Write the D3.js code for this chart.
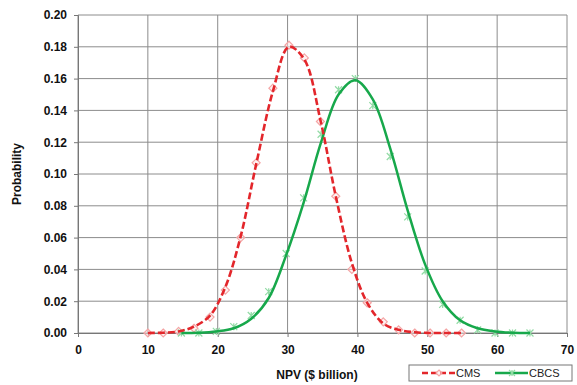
<!doctype html>
<html lang="en">
<head>
<meta charset="UTF-8">
<title>NPV probability</title>
<style>
  body { margin: 0; background: #fff; }
  svg text { font-family: "Liberation Sans", Arial, sans-serif; }
</style>
</head>
<body>
<svg class="chart" width="577" height="385"></svg>
<script src="https://d3js.org/d3.v7.min.js"></script>
<script>
// NPV ($ billion) and probability
// markers = simulated points, fit = the smooth curve drawn through them
var cmsX = [10, 12.2, 14.4, 16.6, 18.9, 21.1, 23.3, 25.5, 27.9, 30.2, 32.4,
            34.7, 36.9, 39.2, 41.4, 43.7, 45.9, 48.2, 50.4, 52.7, 54.9];
var cmsP = [0, 0, 0.001, 0.003, 0.010, 0.027, 0.060, 0.107, 0.154, 0.181, 0.173,
            0.133, 0.086, 0.040, 0.019, 0.007, 0.002, 0, 0, 0, 0];
var cmsFit = [0, 0.0002, 0.001, 0.004, 0.011, 0.029, 0.061, 0.106, 0.152, 0.180, 0.172,
              0.134, 0.086, 0.044, 0.019, 0.006, 0.002, 0.0005, 0, 0, 0];

var cbcsX = [14.8, 17.3, 19.8, 22.3, 24.8, 27.3, 29.8, 32.3, 34.8, 37.3, 39.7,
             42.2, 44.7, 47.2, 49.7, 52.2, 54.7, 57.2, 59.7, 62.2, 64.7];
var cbcsP = [0, 0, 0.001, 0.004, 0.011, 0.026, 0.050, 0.085, 0.125, 0.153, 0.160,
             0.143, 0.111, 0.073, 0.039, 0.018, 0.008, 0.002, 0, 0, 0];
var cbcsFit = [0, 0.0002, 0.001, 0.003, 0.009, 0.022, 0.049, 0.082, 0.120, 0.150, 0.159,
               0.147, 0.116, 0.077, 0.043, 0.020, 0.008, 0.003, 0.001, 0.0002, 0];

var xTicks = [0, 10, 20, 30, 40, 50, 60, 70];
var yTicks = [0, 0.02, 0.04, 0.06, 0.08, 0.10, 0.12, 0.14, 0.16, 0.18, 0.20];
var seriesNames = ["CMS", "CBCS"];

var margin = {left: 78, top: 15},
    width = 489,
    height = 318;

var svg = d3.select(".chart");
var g = svg.append("g").attr("transform", "translate(" + margin.left + "," + margin.top + ")");

var x = d3.scaleLinear().domain([0, 70]).range([0, width]);
var y = d3.scaleLinear().domain([0, 0.20]).range([height, 0]);

// grid
g.append("g").selectAll("line").data(xTicks).enter().append("line")
  .attr("x1", d => x(d)).attr("x2", d => x(d))
  .attr("y1", 0).attr("y2", height)
  .attr("stroke", "#8c8c8c").attr("stroke-width", 1);
g.append("g").selectAll("line").data(yTicks).enter().append("line")
  .attr("x1", 0).attr("x2", width)
  .attr("y1", d => y(d)).attr("y2", d => y(d))
  .attr("stroke", "#8c8c8c").attr("stroke-width", 1);

// axes
var xAxis = g.append("g").attr("transform", "translate(0," + height + ")")
  .call(d3.axisBottom(x).tickValues(xTicks).tickSize(4).tickPadding(8).tickFormat(d3.format("d")));
var yAxis = g.append("g")
  .call(d3.axisLeft(y).tickValues(yTicks).tickSize(4).tickPadding(7).tickFormat(d3.format(".2f")));
[xAxis, yAxis].forEach(function(a) {
  a.select(".domain").attr("stroke", "#777");
  a.selectAll(".tick line").attr("stroke", "#777");
  a.selectAll("text").attr("font-size", 12).attr("font-weight", "bold")
    .attr("fill", "#111").attr("font-family", "'Liberation Sans', Arial, sans-serif");
});

// axis titles
svg.append("text").attr("x", 317).attr("y", 379).attr("text-anchor", "middle")
  .attr("font-size", 12).attr("font-weight", "bold").attr("fill", "#111")
  .text("NPV ($ billion)");
svg.append("text").attr("transform", "translate(21,174) rotate(-90)").attr("text-anchor", "middle")
  .attr("font-size", 12).attr("font-weight", "bold").attr("fill", "#111")
  .text("Probability");

var cms = cmsX.map((v, i) => [v, cmsP[i]]);
var cbcs = cbcsX.map((v, i) => [v, cbcsP[i]]);
var cmsCurve = cmsX.map((v, i) => [v, cmsFit[i]]);
var cbcsCurve = cbcsX.map((v, i) => [v, cbcsFit[i]]);

var line = d3.line().x(d => x(d[0])).y(d => y(Math.max(0, d[1]))).curve(d3.curveCatmullRom.alpha(0.5));

var red = "#e3262b", green = "#17a84b";
var redMark = "#f4a5a5", greenMark = "#92dba5";

function diamond(sel, s) {
  sel.append("path").attr("d", "M0," + (-s) + "L" + s + ",0L0," + s + "L" + (-s) + ",0Z")
    .attr("fill", "#fde8e8").attr("fill-opacity", 0.5).attr("stroke", redMark).attr("stroke-width", 1.2);
}
function star(sel, s) {
  sel.append("path").attr("d", "M" + (-s) + "," + (-s) + "L" + s + "," + s +
      "M" + (-s) + "," + s + "L" + s + "," + (-s) + "M0," + (-s) + "L0," + s)
    .attr("stroke", greenMark).attr("stroke-width", 1.2).attr("fill", "none");
}

// markers
g.append("g").selectAll("g").data(cms).enter().append("g")
  .attr("transform", d => "translate(" + x(d[0]) + "," + y(d[1]) + ")")
  .each(function() { diamond(d3.select(this), 4); });
g.append("g").selectAll("g").data(cbcs).enter().append("g")
  .attr("transform", d => "translate(" + x(d[0]) + "," + y(d[1]) + ")")
  .each(function() { star(d3.select(this), 3.5); });

// lines
g.append("path").datum(cbcsCurve).attr("d", line).attr("fill", "none")
  .attr("stroke", green).attr("stroke-width", 2.5);
g.append("path").datum(cmsCurve).attr("d", line).attr("fill", "none")
  .attr("stroke", red).attr("stroke-width", 2.6).attr("stroke-dasharray", "7,3");

// legend
var lg = svg.append("g").attr("transform", "translate(409,365)");
lg.append("rect").attr("width", 163).attr("height", 16)
  .attr("fill", "#fff").attr("stroke", "#777").attr("stroke-width", 1);
var items = [
  {name: seriesNames[0], x0: 13, color: red, dash: "6,3", mark: diamond},
  {name: seriesNames[1], x0: 86, color: green, dash: null, mark: star}
];
items.forEach(function(it) {
  var ig = lg.append("g").attr("transform", "translate(" + it.x0 + ",8)");
  ig.append("line").attr("x1", 0).attr("x2", 33).attr("stroke", it.color)
    .attr("stroke-width", 2.5).attr("stroke-dasharray", it.dash);
  var m = ig.append("g").attr("transform", "translate(17,0)");
  it.mark(m, 3);
  ig.append("text").attr("x", 34).attr("y", 4).attr("font-size", 11).attr("fill", "#222").text(it.name);
});
</script>
</body>
</html>
